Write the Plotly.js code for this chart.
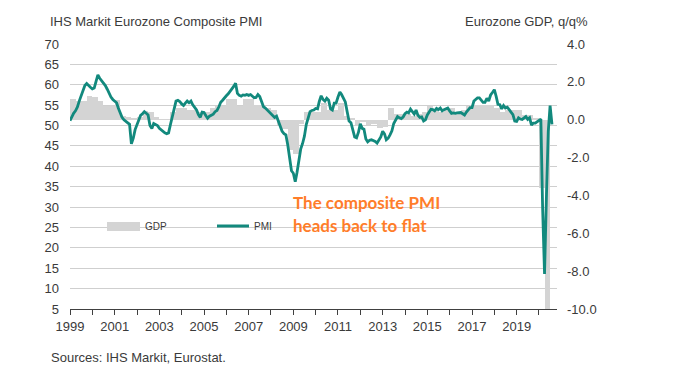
<!DOCTYPE html>
<html><head><meta charset="utf-8">
<script src="https://cdn.plot.ly/plotly-3.0.1.min.js"></script>
<style>html,body{margin:0;padding:0;background:#fff;} #chart{width:700px;height:371px;}</style>
</head><body><div id="chart"></div>
<script>
// ---------- DATA ----------
const pmiStartYear = 1999; // monthly, from Jan 1999
const pmiValues = [
  51.2, 52.3, 53.0, 53.6, 54.5, 56.0, 57.2, 58.6, 59.8, 60.3, 59.7, 59.4, // 1999
  59.0, 59.2, 60.8, 62.4, 61.6, 61.0, 60.3, 59.8, 58.9, 57.8, 57.0, 56.4, // 2000
  56.0, 55.6, 54.3, 53.2, 52.0, 51.4, 51.0, 50.8, 50.3, 45.5, 46.9, 49.0, // 2001
  50.3, 51.3, 52.5, 52.9, 53.4, 53.0, 52.6, 50.0, 49.3, 50.5, 50.2, 50.0, // 2002
  49.3, 48.9, 48.5, 48.2, 48.0, 48.2, 50.2, 52.3, 54.4, 56.0, 56.2, 55.9, // 2003
  55.3, 54.9, 55.5, 56.0, 55.6, 56.0, 55.1, 54.5, 53.8, 52.7, 52.0, 53.3, // 2004
  53.2, 52.4, 51.8, 52.3, 52.6, 52.8, 53.4, 53.7, 54.6, 55.7, 56.2, 56.9, // 2005
  57.3, 57.8, 58.3, 58.9, 59.6, 60.4, 57.9, 57.4, 57.2, 57.5, 57.4, 57.6, // 2006
  57.4, 57.6, 57.1, 56.8, 56.9, 57.6, 57.1, 56.0, 54.6, 54.3, 53.8, 53.4, // 2007
  52.8, 52.4, 52.0, 52.3, 51.1, 49.9, 48.6, 48.0, 47.7, 45.3, 42.5, 38.9, // 2008
  38.3, 36.2, 38.4, 41.5, 44.2, 45.6, 47.4, 50.3, 51.8, 53.4, 53.7, 53.8, // 2009
  54.2, 54.1, 55.9, 57.3, 56.4, 56.0, 56.7, 56.2, 54.1, 53.8, 55.5, 55.5, // 2010
  57.0, 58.2, 57.6, 56.7, 55.8, 53.3, 51.1, 50.7, 49.1, 47.2, 47.0, 48.3, // 2011
  50.4, 49.3, 49.1, 46.7, 46.0, 46.4, 46.5, 46.3, 46.1, 45.7, 46.5, 47.2, // 2012
  48.6, 47.9, 46.5, 46.9, 47.7, 48.7, 50.5, 51.5, 52.2, 51.9, 51.7, 52.1, // 2013
  52.9, 53.3, 53.1, 54.0, 53.5, 52.8, 53.8, 52.5, 52.0, 52.1, 51.1, 51.4, // 2014
  52.6, 53.3, 54.0, 53.9, 53.6, 54.2, 53.9, 54.3, 53.6, 53.9, 54.2, 54.3, // 2015
  53.6, 53.0, 53.1, 53.0, 53.1, 53.1, 53.2, 52.9, 52.6, 53.3, 53.9, 54.4, // 2016
  54.4, 56.0, 56.4, 56.8, 56.8, 56.3, 55.7, 55.7, 56.7, 56.0, 57.5, 58.1, // 2017
  58.8, 57.1, 55.2, 55.1, 54.1, 54.9, 54.3, 54.5, 53.9, 53.1, 52.7, 51.1, // 2018
  51.0, 51.9, 51.6, 51.5, 51.8, 52.2, 51.5, 51.9, 50.1, 50.6, 50.6, 50.9, // 2019
  51.3, 51.6, 29.7, 13.6, 31.9, 48.5, 54.9, 50.3                          // 2020
];
const gdpStartYear = 1999; // quarterly, from Q1 1999
const gdpValues = [
  1.1, 1.0, 1.0, 1.25,   // 1999
  1.2, 1.0, 0.7, 0.7,    // 2000
  1.05, 0.2, 0.15, 0.1,  // 2001
  0.15, 0.45, 0.4, 0.15, // 2002
  0.05, 0.05, 0.4, 0.6,  // 2003
  0.6, 0.5, 0.5, 0.4,    // 2004
  0.4, 0.6, 0.7, 0.7,    // 2005
  1.1, 1.1, 0.7, 1.1,    // 2006
  1.1, 0.8, 0.8, 0.6,    // 2007
  0.5, -0.3, -0.5, -1.6, // 2008
  -1.8, -0.2, 0.4, 0.4,  // 2009
  0.4, 0.9, 0.5, 0.5,    // 2010
  0.9, 0.2, 0.1, -0.3,   // 2011
  -0.1, -0.3, -0.2, -0.45, // 2012
  -0.4, 0.6, 0.3, 0.3,   // 2013
  0.3, 0.2, 0.3, 0.4,    // 2014
  0.7, 0.5, 0.4, 0.5,    // 2015
  0.6, 0.4, 0.5, 0.7,    // 2016
  0.8, 0.8, 0.8, 0.8,    // 2017
  0.6, 0.4, 0.5, 0.5,    // 2018
  0.5, 0.25, 0.25, 0.1,  // 2019
  -3.6, -11.8            // 2020
];
const pmiTickVals = [5, 10, 15, 20, 25, 30, 35, 40, 45, 50, 55, 60, 65, 70];
const gdpTickVals = [-10, -8, -6, -4, -2, 0, 2, 4];
const gdpTickText = ['-10.0', '-8.0', '-6.0', '-4.0', '-2.0', '0.0', '2.0', '4.0'];
const leftTitle = 'IHS Markit Eurozone Composite PMI';
const rightTitle = 'Eurozone GDP, q/q%';
const noteLines = ['The composite PMI', 'heads back to flat'];
const sourceText = 'Sources: IHS Markit, Eurostat.';
const seriesNames = ['GDP', 'PMI'];

// ---------- BUILD ----------
function monthDate(startYear, m) {
  const d = new Date(Date.UTC(startYear, m, 1));
  return d.toISOString().slice(0, 10);
}
const pmiDates = pmiValues.map((_, i) => monthDate(pmiStartYear, i));
const gdpDates = gdpValues.map((_, i) => monthDate(gdpStartYear, i * 3));

const TXT = '#3a3a3a';
const FONT = 'Liberation Sans, Arial, sans-serif';
const TEAL = '#12897d';
const GREY = '#d4d4d4';

const traces = [
  {
    type: 'bar', name: seriesNames[0], x: gdpDates, y: gdpValues,
    xperiod: 'M3', xperiod0: '1999-01-01', xperiodalignment: 'middle',
    marker: { color: GREY, line: { width: 0 } },
    xaxis: 'x', yaxis: 'y', hoverinfo: 'skip', showlegend: false
  },
  {
    type: 'scatter', mode: 'lines', name: seriesNames[1], x: pmiDates, y: pmiValues,
    line: { color: TEAL, width: 2.8 },
    xaxis: 'x', yaxis: 'y2', hoverinfo: 'skip', showlegend: false
  }
];

const W = 487, H = 265, L = 70, T = 44;
const px = v => (v - L) / W;
const py = v => (T + H - v) / H;

const layout = {
  width: 700, height: 371,
  margin: { l: L, r: 700 - L - W, t: T, b: 371 - T - H },
  paper_bgcolor: '#fff', plot_bgcolor: '#fff',
  font: { family: FONT, size: 13, color: TXT },
  showlegend: false,
  bargap: 0,
  xaxis: {
    type: 'date', range: ['1999-01-01', '2020-10-22'],
    tick0: '1999-01-01', dtick: 'M24', tickformat: '%Y',
    ticks: 'outside', ticklen: 5, tickcolor: '#404040', tickwidth: 1,
    minor: { dtick: 'M12', tick0: '1999-01-01', ticks: 'outside', ticklen: 5, tickcolor: '#404040', showgrid: false },
    showline: true, linecolor: '#404040', linewidth: 1,
    showgrid: false, zeroline: false,
    tickfont: { family: FONT, size: 13, color: TXT }
  },
  yaxis: {
    range: [-10, 4], side: 'right',
    tickvals: gdpTickVals, ticktext: gdpTickText,
    showgrid: false, zeroline: false, showline: false, ticks: '',
    ticklabelstandoff: 9,
    tickfont: { family: FONT, size: 13, color: TXT }
  },
  yaxis2: {
    range: [5, 70], overlaying: 'y', side: 'left', anchor: 'x',
    tickvals: pmiTickVals,
    showgrid: true, gridcolor: '#cfcfcf', gridwidth: 1,
    zeroline: false, showline: false, ticks: '',
    ticklabelstandoff: 10,
    tickfont: { family: FONT, size: 13, color: TXT }
  },
  shapes: [
    { type: 'rect', xref: 'paper', yref: 'paper', x0: px(107), x1: px(140), y0: py(231), y1: py(222),
      fillcolor: GREY, line: { width: 0 } },
    { type: 'line', xref: 'paper', yref: 'paper', x0: px(217), x1: px(249), y0: py(226), y1: py(226),
      line: { color: TEAL, width: 3 } }
  ],
  annotations: [
    { text: leftTitle, xref: 'paper', yref: 'paper', x: px(48), y: py(21), xanchor: 'left', yanchor: 'middle',
      showarrow: false, font: { family: FONT, size: 13, color: TXT } },
    { text: rightTitle, xref: 'paper', yref: 'paper', x: px(463), y: py(21), xanchor: 'left', yanchor: 'middle',
      showarrow: false, font: { family: FONT, size: 13, color: TXT } },
    { text: seriesNames[0], xref: 'paper', yref: 'paper', x: px(143), y: py(226), xanchor: 'left', yanchor: 'middle',
      showarrow: false, font: { family: FONT, size: 10, color: TXT } },
    { text: seriesNames[1], xref: 'paper', yref: 'paper', x: px(252), y: py(226), xanchor: 'left', yanchor: 'middle',
      showarrow: false, font: { family: FONT, size: 10, color: TXT } },
    { text: '<b>' + noteLines[0] + '</b>', xref: 'paper', yref: 'paper', x: px(291), y: py(202), xanchor: 'left', yanchor: 'middle',
      showarrow: false, font: { family: 'Lato, sans-serif', size: 17, color: '#ff7d2a' } },
    { text: '<b>' + noteLines[1] + '</b>', xref: 'paper', yref: 'paper', x: px(291), y: py(225), xanchor: 'left', yanchor: 'middle',
      showarrow: false, font: { family: 'Lato, sans-serif', size: 17, color: '#ff7d2a' } },
    { text: sourceText, xref: 'paper', yref: 'paper', x: px(49), y: py(357), xanchor: 'left', yanchor: 'middle',
      showarrow: false, font: { family: FONT, size: 13, color: TXT } }
  ]
};

Plotly.newPlot('chart', traces, layout, { staticPlot: true, displayModeBar: false });
</script>
</body></html>
